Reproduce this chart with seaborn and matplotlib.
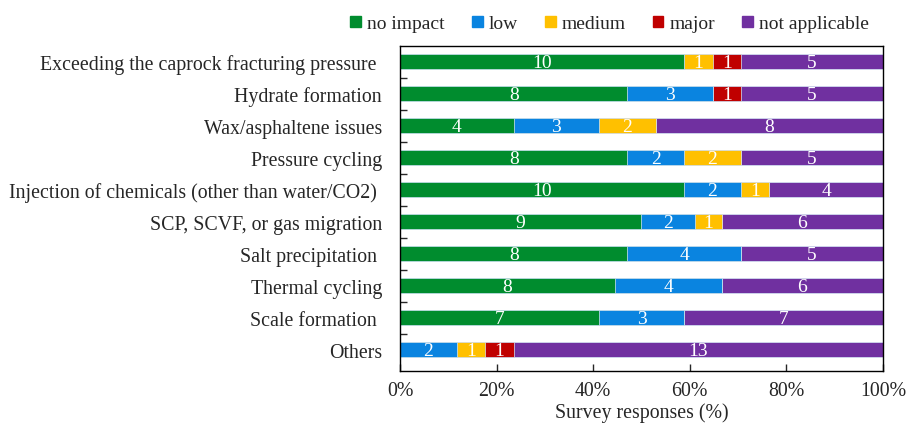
import numpy as np
import pandas as pd
import matplotlib.pyplot as plt
import seaborn as sns
from matplotlib.ticker import FixedLocator, PercentFormatter

sns.set_style("white")
plt.rcParams['font.family'] = ['Liberation Serif', 'DejaVu Serif']

issues = [
    "Exceeding the caprock fracturing pressure ",
    "Hydrate formation",
    "Wax/asphaltene issues",
    "Pressure cycling",
    "Injection of chemicals (other than water/CO2) ",
    "SCP, SCVF, or gas migration",
    "Salt precipitation ",
    "Thermal cycling",
    "Scale formation ",
    "Others",
]
levels = ["no impact", "low", "medium", "major", "not applicable"]
no_impact = [10, 8, 4, 8, 10, 9, 8, 8, 7, 0]
low = [0, 3, 3, 2, 2, 2, 4, 4, 3, 2]
medium = [1, 0, 2, 2, 1, 1, 0, 0, 0, 1]
major = [1, 1, 0, 0, 0, 0, 0, 0, 0, 1]
not_applicable = [5, 5, 8, 5, 4, 6, 5, 6, 7, 13]
colors = ["#008c2e", "#0a84e0", "#ffc000", "#c00000", "#7030a0"]

counts = pd.DataFrame(
    {"no impact": no_impact, "low": low, "medium": medium,
     "major": major, "not applicable": not_applicable},
    index=issues,
)
pct = counts.div(counts.sum(axis=1), axis=0) * 100
cum = pct.cumsum(axis=1)

fig = plt.figure(figsize=(9.07, 4.27), dpi=100)
ax = fig.add_axes([0.441, 0.129, 0.5325, 0.761])

# stacked bars: draw cumulative totals from the last level backwards
for lvl, col in reversed(list(zip(levels, colors))):
    sns.barplot(x=cum[lvl].values, y=issues, color=col, orient="h",
                width=0.47, saturation=1, edgecolor="#d6e8f5",
                linewidth=0.5, ax=ax)

for i, name in enumerate(issues):
    for lvl in levels:
        n = counts.loc[name, lvl]
        if n > 0:
            mid = cum.loc[name, lvl] - pct.loc[name, lvl] / 2
            ax.text(mid, i + 0.02, str(n), color="white", ha="center",
                    va="center", fontsize=14)

ax.set_xlim(0, 100)
ax.set_ylim(9.66, -0.5)
ax.xaxis.set_major_locator(FixedLocator([0, 20, 40, 60, 80, 100]))
ax.xaxis.set_major_formatter(PercentFormatter(decimals=0))
ax.tick_params(axis="x", direction="in", length=5, width=1, pad=7,
               labelsize=14.3, bottom=True)
ax.tick_params(axis="y", which="major", length=0, labelsize=14.3, pad=13)
ax.yaxis.set_minor_locator(FixedLocator(np.arange(0.5, 9.5, 1)))
ax.tick_params(axis="y", which="minor", direction="in", length=5, width=1, left=True)
ax.set_xlabel("Survey responses (%)", fontsize=14.3, labelpad=2)
ax.set_ylabel("")
for s in ax.spines.values():
    s.set_color("black")
    s.set_linewidth(1)

handles = [plt.Rectangle((0, 0), 1, 1, color=c) for c in colors]
fig.legend(handles, levels, loc="center", bbox_to_anchor=(0.672, 0.942),
           ncol=5, frameon=False, fontsize=14, handlelength=0.55,
           handleheight=0.55, handletextpad=0.3, columnspacing=1.4)

fig.savefig("out.png", dpi=100)
